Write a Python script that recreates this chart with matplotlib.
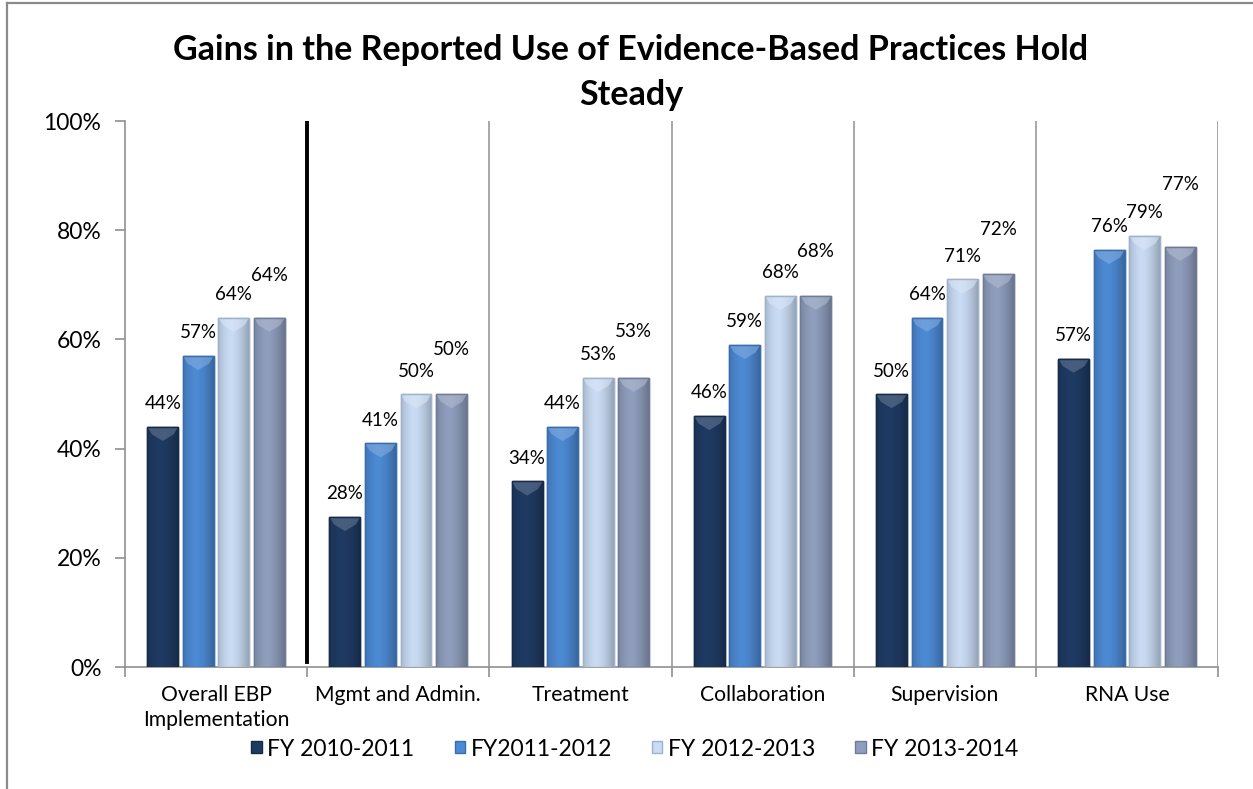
import matplotlib
matplotlib.use("Agg")
import matplotlib.pyplot as plt
import numpy as np
from matplotlib.patches import Rectangle, Polygon
from matplotlib.lines import Line2D
from matplotlib.colors import to_rgb

plt.rcParams['font.family'] = ['Lato', 'DejaVu Sans']

categories = ["Overall EBP\nImplementation", "Mgmt and Admin.", "Treatment",
              "Collaboration", "Supervision", "RNA Use"]
series_names = ["FY 2010-2011", "FY2011-2012", "FY 2012-2013", "FY 2013-2014"]
fy2010 = [44, 27.5, 34, 46, 50, 56.5]
fy2011 = [57, 41, 44, 59, 64, 76.4]
fy2012 = [64, 50, 53, 68, 71, 79]
fy2013 = [64, 50, 53, 68, 72, 77]
labels2010 = ["44%", "28%", "34%", "46%", "50%", "57%"]
labels2011 = ["57%", "41%", "44%", "59%", "64%", "76%"]
labels2012 = ["64%", "50%", "53%", "68%", "71%", "79%"]
labels2013 = ["64%", "50%", "53%", "68%", "72%", "77%"]
yticks = [0, 20, 40, 60, 80, 100]
ytick_labels = ["0%", "20%", "40%", "60%", "80%", "100%"]

series = [fy2010, fy2011, fy2012, fy2013]
labels = [labels2010, labels2011, labels2012, labels2013]
colors = ["#1F3B63", "#4D8AD4", "#C9DCF4", "#8F9EBD"]
edges = ["#162B4A", "#3A6DAE", "#9FB2CC", "#6E7C98"]
# label offsets above bar tops (points), per series and category
label_offsets = [[16.5] * 6, [16.5] * 6, [16.5] * 6, [30, 32, 33, 32, 32, 45]]

W, H = 1253, 789
fig = plt.figure(figsize=(W/100, H/100), dpi=100)
ax = fig.add_axes([125/W, 1-667/H, (1218-125)/W, (667-121)/H])

x = np.arange(len(categories))
bw = 0.17
step = 0.195


def gradient_for(col):
    c = np.array(to_rgb(col))
    t = np.linspace(0, 1, 64)
    f = 1.0 - 0.28 * np.abs(t - 0.42) ** 1.6 * 2.2
    f = np.clip(f, 0.72, 1.06)
    img = np.clip(c[None, :] * f[:, None], 0, 1)
    return img[None, :, :]


for i, (vals, col, ec, labs, offs) in enumerate(zip(series, colors, edges, labels, label_offsets)):
    xs = x + (i - 1.5) * step
    bars = ax.bar(xs, vals, width=bw, color=col, edgecolor=ec, linewidth=1.0, zorder=3,
                  label=series_names[i])
    grad = gradient_for(col)
    light = np.clip(np.array(to_rgb(col)) * 0.7 + 0.3, 0, 1)
    for b in bars:
        x0 = b.get_x(); w = b.get_width(); h = b.get_height()
        im = ax.imshow(grad, extent=(x0, x0 + w, 0, h), aspect="auto", zorder=3.1,
                       interpolation="bilinear")
        im.set_clip_path(b)
        cap = Polygon([(x0, h), (x0 + w, h), (x0 + w * 0.85, h - 1.4),
                       (x0 + w * 0.5, h - 2.6), (x0 + w * 0.15, h - 1.4)],
                      closed=True, facecolor=light, edgecolor="none", alpha=0.6, zorder=3.2)
        ax.add_patch(cap)
        ax.add_patch(Rectangle((x0, 0), w, h, facecolor="none", edgecolor=ec, lw=1.0, zorder=3.3))
    for xx, v, lab, off in zip(xs, vals, labs, offs):
        ax.annotate(lab, (xx, v), xytext=(0, off), textcoords="offset points",
                    ha="center", va="center", fontsize=13.5, color="#000000", zorder=5)

ax.set_xlim(-0.5, len(categories) - 0.5)
ax.set_ylim(0, 100)
ax.set_aspect("auto")
ax.set_yticks(yticks)
ax.set_yticklabels(ytick_labels, fontsize=16.5)
ax.set_xticks(x)
ax.set_xticklabels(categories, fontsize=15.2, linespacing=1.3)
ax.tick_params(axis="x", which="major", length=0, pad=13)
ax.set_xticks(list(np.arange(-0.5, len(categories), 1.0)), minor=True)
ax.tick_params(axis="x", which="minor", length=7, color="#909090", width=1.2)
ax.tick_params(axis="y", length=7, color="#909090", width=1.2, pad=10)
ax.grid(False)
for b in np.arange(1.5, len(categories), 1.0):
    ax.axvline(b, color="#9A9A9A", lw=1.2, zorder=1)
ax.axvline(0.5, ymin=0.01, ymax=1.0, color="black", lw=2.8, zorder=4)

for s in ["top", "right"]:
    ax.spines[s].set_visible(False)
for s in ["left", "bottom"]:
    ax.spines[s].set_color("#909090")
    ax.spines[s].set_linewidth(1.2)

fig.text(631/W, 1-50/H, "Gains in the Reported Use of Evidence-Based Practices Hold",
         ha="center", va="center", fontsize=24.5, fontweight="bold")
fig.text(631/W, 1-95/H, "Steady", ha="center", va="center", fontsize=24.5, fontweight="bold")

handles = [Rectangle((0, 0), 1, 1, facecolor=c, edgecolor=e, lw=1) for c, e in zip(colors, edges)]
fig.legend(handles, series_names, loc="center", bbox_to_anchor=(635/W, 1-749/H),
           ncol=4, frameon=False, fontsize=16.5, handlelength=0.45, handleheight=0.45,
           handletextpad=0.25, columnspacing=1.75, borderpad=0)

fig.add_artist(Line2D([7/W, 7/W], [0, 1-3/H], transform=fig.transFigure, color="#8A8A8A", lw=1.6))
fig.add_artist(Line2D([7/W, 1], [1-3/H, 1-3/H], transform=fig.transFigure, color="#8A8A8A", lw=1.6))

fig.savefig("out.png", dpi=100)
